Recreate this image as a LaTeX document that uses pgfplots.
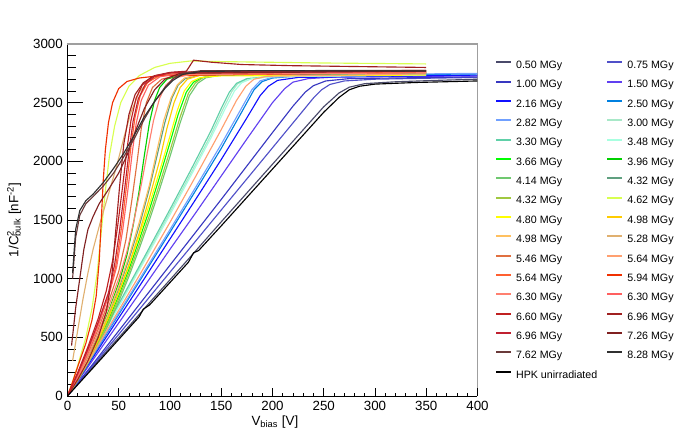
\documentclass[border=0pt]{standalone}
\usepackage{fontspec}
\setmainfont{Liberation Sans}
\usepackage{pgfplots}
\pgfplotsset{compat=1.18}
\definecolor{c050}{HTML}{4A4A6A}
\definecolor{c075}{HTML}{5050C8}
\definecolor{c100}{HTML}{3838C0}
\definecolor{c150}{HTML}{6040F0}
\definecolor{c216}{HTML}{1010FF}
\definecolor{c250}{HTML}{0080E0}
\definecolor{c282}{HTML}{70A0FF}
\definecolor{c300}{HTML}{A8E8C8}
\definecolor{c330}{HTML}{60D0A8}
\definecolor{c348}{HTML}{A8FFE0}
\definecolor{c366}{HTML}{00FF00}
\definecolor{c396}{HTML}{00D000}
\definecolor{c414}{HTML}{70C870}
\definecolor{c432b}{HTML}{60A080}
\definecolor{c432a}{HTML}{A0C840}
\definecolor{c462}{HTML}{D8FF50}
\definecolor{c480}{HTML}{FFFF00}
\definecolor{c498b}{HTML}{FFCC00}
\definecolor{c498a}{HTML}{FFC060}
\definecolor{c528}{HTML}{E0B070}
\definecolor{c546}{HTML}{E07040}
\definecolor{c564b}{HTML}{FFA070}
\definecolor{c564a}{HTML}{FF6030}
\definecolor{c594}{HTML}{F03000}
\definecolor{c630a}{HTML}{FF8070}
\definecolor{c630b}{HTML}{FF6060}
\definecolor{c660}{HTML}{C02020}
\definecolor{c696b}{HTML}{A02020}
\definecolor{c696a}{HTML}{C02030}
\definecolor{c726}{HTML}{802020}
\definecolor{c762}{HTML}{6A3A3A}
\definecolor{c828}{HTML}{303030}
\begin{document}
\begin{tikzpicture}[x=0.75pt,y=0.75pt]
\useasboundingbox (0,0) rectangle (678,441);
\begin{axis}[
  at={(50.6pt,33.75pt)}, anchor=south west, scale only axis,
  width=307.5pt, height=264pt,
  xmin=0, xmax=400, ymin=0, ymax=3000,
  axis x line*=bottom, axis y line*=left,
  axis line style={line width=0.6pt},
  xtick=\empty, ytick={0,500,...,3000},
  minor y tick num=4,
  tick align=inside, major tick length=11.8pt, minor tick length=6.2pt,
  tick style={black, line width=0.6pt},
  font=\fontsize{10}{12}\selectfont,
  /pgf/number format/assume math mode=true,
  /pgf/number format/1000 sep={},
  clip mode=individual,
  xlabel={V\textsubscript{bias} [V]},
  ylabel={1/C\rlap{\textsuperscript{2}}\textsubscript{bulk} [nF\textsuperscript{-2}]},
  every axis y label/.style={at={(axis description cs:-0.130,0.5)},rotate=90,anchor=center},
  every axis x label/.style={at={(axis description cs:0.506,-0.074)},anchor=center},
  legend columns=2,
  legend cell align=left,
  legend style={at={(axis description cs:1.0427,0.952)}, anchor=north west, draw=none, fill=none,
     font=\fontsize{8}{9.5}\selectfont, inner sep=0pt, row sep=7.42pt, column sep=3pt,
     nodes={inner sep=0pt},
     /tikz/every even column/.append style={column sep=27.8pt}},
  legend image code/.code={\draw[#1, line width=1.4pt] (0pt,2.7pt) -- (11.25pt,2.7pt);},
  every axis plot/.append style={line width=0.85pt, no markers},
]
\draw[gray!75, line width=1.2pt] (rel axis cs:0,1) -- (rel axis cs:1,1) -- (rel axis cs:1,0);
% 0.50
\addplot[c050] coordinates {(0,0)(20,202)(40,400)(60,595)(80,795)(100,990)(125,1236)(150,1484)(175,1730)(200,1975)(225,2220)(250,2465)(265,2583)(275,2632)(290,2662)(320,2678)(360,2690)(400,2700)};
\addlegendentry{\makebox[40pt][l]{0.50 MGy}}
% 0.75
\addplot[c075] coordinates {(0,0)(25,262)(50,525)(75,790)(100,1055)(125,1320)(150,1585)(175,1850)(200,2115)(225,2380)(240,2540)(248,2610)(256,2655)(270,2685)(300,2700)(350,2708)(400,2715)};
\addlegendentry{\makebox[40pt][l]{0.75 MGy}}
% 1.00
\addplot[c100] coordinates {(0,0)(25,275)(50,555)(75,835)(100,1115)(125,1395)(150,1675)(175,1960)(200,2245)(220,2470)(232,2590)(240,2645)(252,2685)(275,2705)(400,2720)};
\addlegendentry{\makebox[40pt][l]{1.00 MGy}}
% 1.50
\addplot[c150] coordinates {(0,0)(25,310)(50,622)(75,935)(100,1250)(125,1560)(150,1875)(175,2190)(200,2500)(212,2620)(220,2675)(235,2705)(260,2718)(400,2728)};
\addlegendentry{\makebox[40pt][l]{1.50 MGy}}
% 2.16
\addplot[c216] coordinates {(0,0)(25,330)(50,665)(75,1000)(100,1338)(125,1675)(150,2015)(175,2370)(188,2560)(196,2640)(205,2690)(225,2715)(400,2735)};
\addlegendentry{\makebox[40pt][l]{2.16 MGy}}
% 2.50
\addplot[c250] coordinates {(0,0)(25,345)(50,695)(75,1045)(100,1395)(125,1750)(150,2110)(170,2420)(182,2610)(190,2680)(200,2710)(230,2730)(400,2745)};
\addlegendentry{\makebox[40pt][l]{2.50 MGy}}
% 2.82
\addplot[c282] coordinates {(0,0)(25,352)(50,707)(75,1062)(100,1418)(125,1778)(150,2145)(168,2425)(180,2612)(188,2686)(200,2716)(230,2733)(400,2750)};
\addlegendentry{\makebox[40pt][l]{2.82 MGy}}
% 3.00
\addplot[c300] coordinates {(0,0)(25,380)(50,770)(75,1165)(100,1565)(120,1890)(140,2225)(152,2450)(160,2590)(166,2660)(175,2700)(200,2722)(350,2735)};
\addlegendentry{\makebox[40pt][l]{3.00 MGy}}
% 3.30
\addplot[c330] coordinates {(0,0)(25,390)(50,785)(75,1185)(100,1590)(120,1920)(140,2260)(150,2450)(158,2590)(165,2665)(175,2705)(200,2725)(350,2740)};
\addlegendentry{\makebox[40pt][l]{3.30 MGy}}
% 3.48
\addplot[c348] coordinates {(0,0)(25,375)(50,760)(75,1150)(100,1545)(120,1870)(140,2200)(154,2450)(163,2600)(170,2670)(180,2705)(200,2722)(350,2735)};
\addlegendentry{\makebox[40pt][l]{3.48 MGy}}
% 3.66
\addplot[c366] coordinates {(0,0)(10,140)(20,295)(30,465)(40,650)(50,855)(60,1080)(70,1330)(80,1590)(90,1870)(100,2160)(108,2400)(116,2590)(123,2675)(131,2712)(150,2735)(200,2745)(350,2752)};
\addlegendentry{\makebox[40pt][l]{3.66 MGy}}
% 3.96
\addplot[c396] coordinates {(0,0)(10,150)(20,320)(30,510)(40,720)(50,960)(58,1200)(64,1450)(70,1750)(75,2050)(80,2330)(85,2520)(90,2630)(97,2700)(110,2735)(350,2750)};
\addlegendentry{\makebox[40pt][l]{3.96 MGy}}
% 4.14
\addplot[c414] coordinates {(0,0)(10,130)(20,275)(30,435)(40,610)(50,805)(60,1020)(70,1255)(80,1500)(90,1765)(100,2040)(110,2330)(119,2560)(127,2665)(135,2712)(150,2736)(200,2746)(350,2755)};
\addlegendentry{\makebox[40pt][l]{4.14 MGy}}
% 4.32 dark green
\addplot[c432b] coordinates {(0,0)(10,145)(20,310)(30,490)(40,690)(50,915)(60,1165)(70,1445)(80,1770)(88,2070)(95,2330)(102,2540)(108,2650)(115,2705)(130,2735)(350,2750)};
\addlegendentry{\makebox[40pt][l]{4.32 MGy}}
% 4.32 yellow-green
\addplot[c432a] coordinates {(0,0)(10,135)(20,285)(30,450)(40,630)(50,830)(60,1050)(70,1290)(80,1540)(90,1810)(100,2090)(110,2380)(118,2580)(125,2670)(133,2718)(150,2742)(200,2752)(350,2760)};
\addlegendentry{\makebox[40pt][l]{4.32 MGy}}
% 4.62
\addplot[c462] coordinates {(0,0)(5,120)(10,260)(18,500)(24,750)(29,1050)(33,1400)(37,1750)(41,2050)(46,2300)(52,2500)(60,2640)(70,2730)(85,2800)(100,2835)(120,2855)(150,2850)(250,2838)(350,2830)};
\addlegendentry{\makebox[40pt][l]{4.62 MGy}}
% 4.80
\addplot[c480] coordinates {(0,0)(10,145)(20,305)(30,480)(40,670)(50,880)(60,1110)(70,1365)(80,1635)(90,1920)(100,2215)(107,2430)(114,2600)(121,2680)(130,2715)(150,2728)(350,2735)};
\addlegendentry{\makebox[40pt][l]{4.80 MGy}}
% 4.98 gold
\addplot[c498b] coordinates {(0,0)(10,140)(20,300)(30,475)(40,670)(50,885)(60,1120)(70,1390)(80,1690)(90,2010)(97,2280)(104,2500)(110,2630)(117,2700)(130,2735)(160,2750)(350,2760)};
\addlegendentry{\makebox[40pt][l]{4.98 MGy}}
% 4.98 light orange
\addplot[c498a] coordinates {(0,0)(10,148)(20,315)(30,500)(40,705)(50,935)(60,1190)(70,1480)(80,1800)(87,2080)(94,2350)(101,2540)(107,2650)(114,2710)(128,2740)(160,2752)(350,2762)};
\addlegendentry{\makebox[40pt][l]{4.98 MGy}}
% 5.28
\addplot[c528] coordinates {(5,300)(10,560)(15,820)(20,1050)(25,1250)(32,1480)(40,1720)(48,1960)(55,2200)(62,2420)(70,2590)(80,2690)(95,2740)(120,2760)(350,2765)};
\addlegendentry{\makebox[40pt][l]{5.28 MGy}}
% 5.46
\addplot[c546] coordinates {(0,0)(10,170)(20,360)(30,570)(40,800)(50,1060)(57,1330)(63,1680)(68,2000)(72,2280)(77,2500)(83,2630)(92,2700)(110,2740)(350,2755)};
\addlegendentry{\makebox[40pt][l]{5.46 MGy}}
% 5.64 light salmon
\addplot[c564b] coordinates {(0,0)(25,360)(50,730)(75,1100)(100,1480)(125,1870)(150,2270)(165,2520)(174,2640)(182,2700)(195,2725)(350,2745)};
\addlegendentry{\makebox[40pt][l]{5.64 MGy}}
% 5.64 orange red
\addplot[c564a] coordinates {(0,0)(10,190)(20,390)(30,610)(40,860)(47,1100)(53,1450)(58,1820)(62,2130)(66,2380)(71,2560)(78,2670)(88,2725)(110,2750)(350,2760)};
\addlegendentry{\makebox[40pt][l]{5.64 MGy}}
% 5.94
\addplot[c594] coordinates {(0,0)(5,120)(10,250)(18,450)(24,650)(28,850)(31,1150)(33,1500)(35,1850)(37,2100)(40,2330)(44,2500)(50,2620)(58,2680)(70,2710)(90,2730)(350,2760)};
\addlegendentry{\makebox[40pt][l]{5.94 MGy}}
% 6.30 salmon
\addplot[c630a] coordinates {(0,0)(10,160)(20,340)(30,540)(40,760)(50,1000)(58,1230)(65,1500)(72,1800)(78,2080)(84,2350)(90,2540)(96,2650)(104,2710)(120,2740)(350,2755)};
\addlegendentry{\makebox[40pt][l]{6.30 MGy}}
% 6.30 red
\addplot[c630b] coordinates {(0,0)(10,180)(20,380)(30,600)(40,850)(48,1100)(54,1420)(59,1760)(63,2060)(67,2320)(72,2520)(79,2650)(90,2720)(110,2750)(350,2765)};
\addlegendentry{\makebox[40pt][l]{6.30 MGy}}
% 6.60
\addplot[c660] coordinates {(0,0)(10,200)(20,420)(30,660)(38,900)(44,1150)(49,1450)(54,1800)(58,2100)(62,2350)(67,2540)(73,2650)(82,2720)(100,2755)(350,2770)};
\addlegendentry{\makebox[40pt][l]{6.60 MGy}}
% 6.96 dark red (spike)
\addplot[c696b] coordinates {(0,0)(10,140)(20,300)(30,500)(38,720)(43,1000)(47,1400)(51,1800)(55,2150)(60,2400)(66,2570)(74,2670)(85,2730)(100,2758)(116,2768)(123,2862)(140,2845)(170,2825)(220,2815)(350,2800)};
\addlegendentry{\makebox[40pt][l]{6.96 MGy}}
% 6.96 red
\addplot[c696a] coordinates {(0,0)(10,190)(20,400)(30,630)(40,880)(46,1120)(51,1420)(56,1780)(60,2080)(64,2340)(69,2530)(76,2660)(86,2730)(105,2760)(350,2775)};
\addlegendentry{\makebox[40pt][l]{6.96 MGy}}
% 7.26
\addplot[c726] coordinates {(4,430)(8,750)(12,1000)(16,1250)(20,1420)(25,1530)(31,1640)(40,1760)(50,1900)(58,2050)(66,2250)(75,2450)(85,2610)(95,2700)(110,2750)(350,2770)};
\addlegendentry{\makebox[40pt][l]{7.26 MGy}}
% 7.62
\addplot[c762] coordinates {(5,1000)(8,1350)(12,1540)(18,1640)(25,1700)(35,1790)(45,1900)(55,2040)(65,2190)(75,2360)(85,2510)(95,2630)(103,2705)(112,2750)(130,2772)(350,2775)};
\addlegendentry{\makebox[40pt][l]{7.62 MGy}}
% 8.28
\addplot[c828] coordinates {(5,1050)(8,1420)(12,1580)(18,1665)(25,1720)(35,1820)(45,1940)(55,2070)(65,2220)(75,2380)(85,2510)(95,2620)(103,2690)(112,2740)(130,2765)(180,2772)(350,2770)};
\addlegendentry{\makebox[40pt][l]{8.28 MGy}}
% HPK unirradiated
\addplot[black] coordinates {(0,0)(25,240)(50,482)(70,676)(74,740)(80,775)(100,967)(118,1140)(123,1220)(128,1240)(150,1450)(175,1692)(200,1934)(225,2176)(250,2418)(265,2545)(275,2610)(285,2640)(300,2658)(340,2672)(400,2685)};
\addlegendentry{\makebox[40pt][l]{HPK unirradiated}}
\end{axis}
\begin{axis}[
  at={(50.6pt,33.75pt)}, anchor=south west, scale only axis,
  width=307.5pt, height=264pt,
  xmin=0, xmax=400, ymin=0, ymax=3000,
  axis x line*=bottom, hide y axis,
  axis line style={line width=0.6pt},
  xtick={0,50,...,400}, minor x tick num=4,
  tick align=inside, major tick length=6pt, minor tick length=2.6pt,
  tick style={black, line width=0.6pt},
  font=\fontsize{10}{12}\selectfont,
  /pgf/number format/assume math mode=true,
]
\end{axis}
\end{tikzpicture}
\end{document}
